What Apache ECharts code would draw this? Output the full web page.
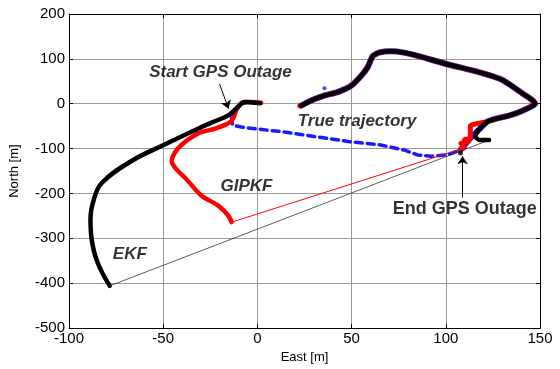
<!DOCTYPE html>
<html><head><meta charset="utf-8">
<script src="https://cdn.jsdelivr.net/npm/echarts@6/dist/echarts.min.js"></script>
<style>html,body{margin:0;padding:0;background:#fff}#c{width:560px;height:369px}</style>
</head><body><div id="c"></div>
<script>
// Axis ticks
const xTicks = [-100, -50, 0, 50, 100, 150];
const yTicks = [-500, -400, -300, -200, -100, 0, 100, 200];

// True trajectory during GPS outage (blue dashed)
const trueOutX = [1, -5, -10, -13.7, -13.7, -13, -8.5, 5.6, 12.7, 30, 48, 65.5, 77.7, 85, 92, 100.8, 107.8];
const trueOutY = [2, 4, -3, -20, -40, -48, -52, -59, -62, -73, -84, -92, -103, -114, -117, -114, -103];
// True trajectory after outage
const trueLoopX = [107.8, 113, 117.3, 122, 127, 134, 141, 147.5, 145, 141, 136, 129, 118, 100.8, 85.6, 77.7, 70.8, 64.5, 61.2, 58.5, 55, 49.7, 42.6, 35.4, 28.5, 23.3];
const trueLoopY = [-103, -77, -59, -40, -33, -26, -15, 0, 11, 22, 37, 55, 70, 88, 106, 114, 117, 114, 106, 81, 62, 40, 26, 18, 7, -4];
// isolated true point
const trueDotX = [35.6];
const trueDotY = [34.5];

// GIPKF (red)
const gipkfOutX = [2, -3, -7, -10.5, -13.7, -22, -31.3, -42, -45.5, -42.8, -38.4, -29.6, -20.8, -15.5, -13.7];
const gipkfOutY = [2, 4, 4, -8, -38, -55, -66, -99, -128, -147, -165, -205, -227, -249, -264];
const gipkfJumpX = [-13.7, 108];
const gipkfJumpY = [-264, -101];
const gipkfLoopX = [108, 110, 108, 112, 110, 113, 113, 119, 122, 127, 134, 141, 147.5, 145, 141, 136, 129, 118, 100.8, 85.6, 77.7, 70.8, 64.5, 61.2, 58.5, 55, 49.7, 42.6, 35.4, 28.5, 22.5];
const gipkfLoopY = [-101, -97, -88, -84, -80, -77, -50, -42, -40, -33, -26, -15, 2, 11, 22, 37, 55, 70, 88, 106, 114, 117, 114, 106, 81, 62, 40, 26, 18, 7, -5];

// EKF (black)
const ekfOutX = [1.5, -3, -7, -10.2, -15.5, -22, -31.3, -49.8, -66.6, -82.5, -86.8, -88.6, -88, -85, -78.4];
const ekfOutY = [1, 3, 4, -7, -26, -38, -55, -92, -127, -176, -213, -257, -301, -352, -406];
const ekfJumpX = [-78.4, 123];
const ekfJumpY = [-406, -81];
const ekfLoopX = [123, 118, 115.7, 117.3, 122, 127, 134, 141, 147.5, 145, 141, 136, 129, 118, 100.8, 85.6, 77.7, 70.8, 64.5, 61.2, 58.5, 55, 49.7, 42.6, 35.4, 28.5, 23.3];
const ekfLoopY = [-81, -81, -73, -59, -40, -33, -26, -15, 0, 11, 22, 37, 55, 70, 88, 106, 114, 117, 114, 106, 81, 62, 40, 26, 18, 7, -4];
const ekfDotX = [107.8];
const ekfDotY = [-110];

// Annotations (data coordinates)
const annText = ['Start GPS Outage', 'True trajectory', 'GIPKF', 'EKF', 'End GPS Outage'];
const annX = [-19.6, 52.9, -5.8, -67.7, 110];
const annY = [70.4, -39.6, -183, -335, -235.5];
const arrowFromX = [-20.1, 108.9];
const arrowFromY = [44, -209];
const arrowToX = [-15.3, 108.9];
const arrowToY = [-11, -117];

const zip = (xs, ys) => xs.map((x, i) => [x, ys[i]]);

const chart = echarts.init(document.getElementById('c'));
const font = 'Liberation Sans, Arial, sans-serif';
const baseAxis = {
  type: 'value',
  axisLine: { show: true, onZero: false, lineStyle: { color: '#000', width: 1 } },
  axisTick: { show: true, inside: true, length: 4, lineStyle: { color: '#000' } },
  splitLine: { show: true, lineStyle: { color: '#9a9a9a', width: 1 } }
};
function lineSeries(xs, ys, color, width, type, z, smooth) {
  return {
    type: 'line', data: zip(xs, ys), showSymbol: false, symbol: 'none', z: z,
    smooth: smooth || false,
    lineStyle: { color: color, width: width, type: type || 'solid', cap: 'round', join: 'round' },
    silent: true, animation: false
  };
}
const annData = annText.map((t, i) => ({ value: [annX[i], annY[i]], name: t,
  label: { fontStyle: i === 4 ? 'normal' : 'italic', fontSize: i === 4 ? 18 : 17 } }));
const arrowData = arrowFromX.map((x, i) => ({ coords: [[x, arrowFromY[i]], [arrowToX[i], arrowToY[i]]] }));

chart.setOption({
  animation: false,
  grid: { left: 67, right: 20, top: 14, bottom: 30, containLabel: false },
  xAxis: [
    Object.assign({}, baseAxis, {
      min: -100, max: 150, interval: 50, position: 'bottom',
      name: 'East [m]', nameLocation: 'middle', nameGap: 19,
      nameTextStyle: { fontFamily: font, fontSize: 13, color: '#000' },
      axisLabel: { fontFamily: font, fontSize: 15, color: '#000', margin: 3,
        formatter: v => xTicks.includes(v) ? String(v) : '' }
    }),
    Object.assign({}, baseAxis, {
      min: -100, max: 150, interval: 50, position: 'top',
      axisLabel: { show: false }, splitLine: { show: false }
    })
  ],
  yAxis: [
    Object.assign({}, baseAxis, {
      min: -500, max: 200, interval: 100, position: 'left',
      name: 'North [m]', nameLocation: 'middle', nameGap: 48,
      nameTextStyle: { fontFamily: font, fontSize: 13, color: '#000' },
      axisLabel: { fontFamily: font, fontSize: 15, color: '#000', margin: 4,
        formatter: v => yTicks.includes(v) ? String(v) : '' }
    }),
    Object.assign({}, baseAxis, {
      min: -500, max: 200, interval: 100, position: 'right',
      axisLabel: { show: false }, splitLine: { show: false }
    })
  ],
  series: [
    lineSeries(trueOutX, trueOutY, '#1a1aff', 3.5, [7, 5], 2, false),
    lineSeries(trueLoopX, trueLoopY, '#1a1aff', 6, 'solid', 2, 0.2),
    { type: 'scatter', data: zip(trueDotX, trueDotY), symbolSize: 4, itemStyle: { color: '#1a1aff' }, z: 2, silent: true },
    lineSeries(gipkfOutX, gipkfOutY, '#ff0000', 4.5, 'solid', 3, 0.3),
    lineSeries(gipkfJumpX, gipkfJumpY, '#ff0000', 1, 'solid', 3, false),
    lineSeries(gipkfLoopX, gipkfLoopY, '#ff0000', 5, 'solid', 3, 0.2),
    lineSeries(ekfOutX, ekfOutY, '#000000', 4.5, 'solid', 4, 0.4),
    lineSeries(ekfJumpX, ekfJumpY, '#333333', 0.8, 'solid', 4, false),
    lineSeries(ekfLoopX, ekfLoopY, '#000000', 4.5, 'solid', 4, 0.2),
    { type: 'scatter', data: zip(ekfDotX, ekfDotY), symbolSize: 5, itemStyle: { color: '#000' }, z: 4, silent: true },
    { type: 'lines', coordinateSystem: 'cartesian2d', data: arrowData, z: 5, silent: true,
      symbol: ['none', 'arrow'], symbolSize: 8,
      lineStyle: { color: '#000', width: 1, opacity: 1, curveness: 0 } },
    { type: 'scatter', data: annData, symbolSize: 0, z: 6, silent: true,
      label: { show: true, position: 'inside', formatter: p => p.name,
        fontFamily: font, fontWeight: 'bold', color: '#000', textBorderWidth: 0 } }
  ]
});
</script>
</body></html>
